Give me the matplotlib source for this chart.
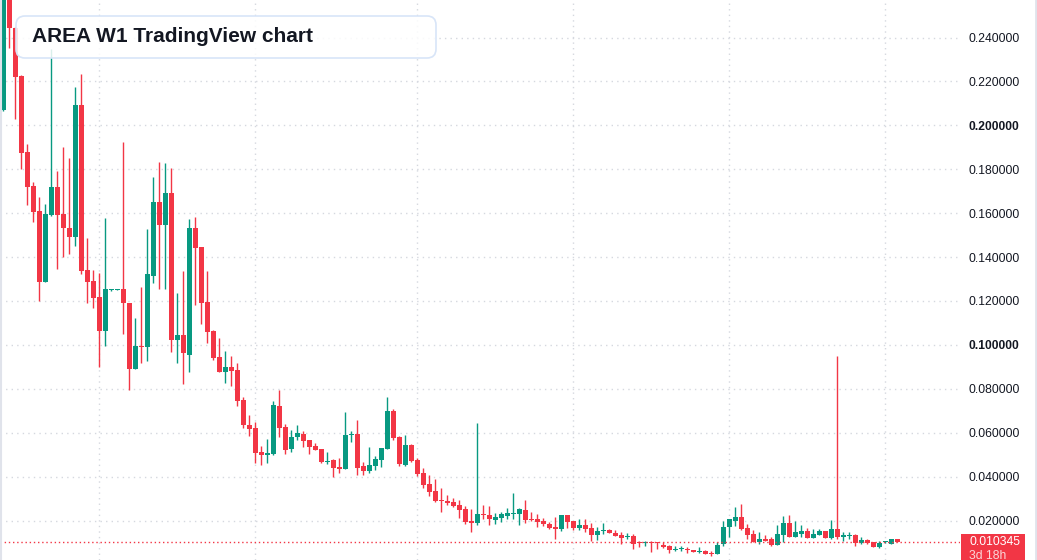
import matplotlib
matplotlib.use("Agg")
import matplotlib.pyplot as plt
import numpy as np
from matplotlib.patches import FancyBboxPatch, Rectangle
from matplotlib.transforms import IdentityTransform
from matplotlib.lines import Line2D

# ---------------- data (weekly OHLC) ----------------
opens = [0.2070, 0.2620, 0.2445, 0.2225, 0.1879, 0.1724, 0.1610, 0.1287, 0.1592, 0.1719,
         0.1596, 0.1533, 0.1492, 0.2093, 0.1341, 0.1291, 0.1218, 0.1063, 0.1248, 0.1249,
         0.1255, 0.1191, 0.0890, 0.0995, 0.0990, 0.1314, 0.1651, 0.1546, 0.1692, 0.1022,
         0.1045, 0.0954, 0.1533, 0.1446, 0.1196, 0.1063, 0.0945, 0.0877, 0.0899, 0.0886,
         0.0749, 0.0635, 0.0622, 0.0512, 0.0499, 0.0503, 0.0722, 0.0626, 0.0526, 0.0581,
         0.0594, 0.0567, 0.0540, 0.0526, 0.0468, 0.0476, 0.0444, 0.0435, 0.0590, 0.0594,
         0.0448, 0.0426, 0.0448, 0.0476, 0.0526, 0.0699, 0.0581, 0.0453, 0.0544, 0.0476,
         0.0417, 0.0366, 0.0335, 0.0295, 0.0289, 0.0284, 0.0271, 0.0253, 0.0198, 0.0189,
         0.0230, 0.0225, 0.0202, 0.0212, 0.0221, 0.0230, 0.0230, 0.0248, 0.0207, 0.0207,
         0.0198, 0.0184, 0.0171, 0.0161, 0.0225, 0.0198, 0.0166, 0.0180, 0.0166, 0.0134,
         0.0152, 0.0157, 0.0143, 0.0134, 0.0125, 0.0130, 0.0102, 0.0096, 0.0102, 0.0101,
         0.0089, 0.0084, 0.0066, 0.0070, 0.0070, 0.0066, 0.0057, 0.0061, 0.0052, 0.0048,
         0.0093, 0.0171, 0.0198, 0.0216, 0.0166, 0.0139, 0.0102, 0.0116, 0.0116, 0.0089,
         0.0134, 0.0189, 0.0125, 0.0139, 0.0152, 0.0121, 0.0134, 0.0152, 0.0121, 0.0161,
         0.0125, 0.0130, 0.0134, 0.0098, 0.0111, 0.0102, 0.0080, 0.0101, 0.0093, 0.0116]

highs = [0.2700, 0.2680, 0.2450, 0.2229, 0.1915, 0.1742, 0.1674, 0.1642, 0.2348, 0.1792,
         0.1902, 0.1851, 0.2175, 0.2234, 0.1487, 0.1341, 0.1328, 0.1578, 0.1254, 0.1255,
         0.1924, 0.1191, 0.1123, 0.1264, 0.1528, 0.1765, 0.1833, 0.1829, 0.1806, 0.1236,
         0.1337, 0.1574, 0.1583, 0.1446, 0.1337, 0.1068, 0.1032, 0.0972, 0.0950, 0.0918,
         0.0763, 0.0681, 0.0649, 0.0540, 0.0571, 0.0745, 0.0795, 0.0640, 0.0612, 0.0635,
         0.0608, 0.0567, 0.0553, 0.0526, 0.0512, 0.0480, 0.0485, 0.0694, 0.0608, 0.0658,
         0.0467, 0.0535, 0.0494, 0.0530, 0.0763, 0.0708, 0.0585, 0.0590, 0.0549, 0.0485,
         0.0439, 0.0407, 0.0389, 0.0348, 0.0316, 0.0303, 0.0294, 0.0266, 0.0253, 0.0644,
         0.0271, 0.0266, 0.0234, 0.0239, 0.0257, 0.0325, 0.0257, 0.0294, 0.0239, 0.0230,
         0.0212, 0.0193, 0.0216, 0.0225, 0.0225, 0.0198, 0.0207, 0.0207, 0.0189, 0.0171,
         0.0189, 0.0161, 0.0157, 0.0148, 0.0143, 0.0139, 0.0107, 0.0107, 0.0107, 0.0102,
         0.0102, 0.0089, 0.0084, 0.0084, 0.0080, 0.0066, 0.0080, 0.0066, 0.0061, 0.0102,
         0.0198, 0.0207, 0.0262, 0.0275, 0.0184, 0.0157, 0.0148, 0.0134, 0.0125, 0.0180,
         0.0221, 0.0225, 0.0198, 0.0180, 0.0166, 0.0161, 0.0161, 0.0152, 0.0202, 0.0950,
         0.0148, 0.0148, 0.0139, 0.0125, 0.0116, 0.0102, 0.0107, 0.0107, 0.0116, 0.0116]

lows = [0.2066, 0.2352, 0.2029, 0.1801, 0.1637, 0.1560, 0.1200, 0.1285, 0.1587, 0.1346,
        0.1400, 0.1414, 0.1451, 0.1323, 0.1191, 0.1168, 0.0899, 0.0995, 0.1246, 0.1248,
        0.1050, 0.0795, 0.0890, 0.0918, 0.0927, 0.1282, 0.1255, 0.1255, 0.0968, 0.0918,
        0.0822, 0.0877, 0.1182, 0.1095, 0.1009, 0.0931, 0.0877, 0.0827, 0.0813, 0.0722,
        0.0622, 0.0585, 0.0462, 0.0453, 0.0462, 0.0499, 0.0581, 0.0503, 0.0512, 0.0567,
        0.0535, 0.0503, 0.0521, 0.0462, 0.0458, 0.0398, 0.0417, 0.0435, 0.0558, 0.0407,
        0.0407, 0.0417, 0.0430, 0.0444, 0.0526, 0.0567, 0.0448, 0.0448, 0.0467, 0.0403,
        0.0348, 0.0312, 0.0284, 0.0239, 0.0271, 0.0262, 0.0212, 0.0184, 0.0148, 0.0180,
        0.0207, 0.0180, 0.0184, 0.0193, 0.0207, 0.0207, 0.0180, 0.0189, 0.0198, 0.0171,
        0.0175, 0.0161, 0.0116, 0.0152, 0.0166, 0.0157, 0.0157, 0.0148, 0.0107, 0.0111,
        0.0139, 0.0143, 0.0130, 0.0093, 0.0116, 0.0070, 0.0080, 0.0084, 0.0057, 0.0070,
        0.0075, 0.0052, 0.0061, 0.0061, 0.0052, 0.0057, 0.0052, 0.0048, 0.0039, 0.0048,
        0.0084, 0.0125, 0.0175, 0.0157, 0.0116, 0.0102, 0.0093, 0.0107, 0.0084, 0.0089,
        0.0102, 0.0125, 0.0125, 0.0125, 0.0121, 0.0121, 0.0134, 0.0121, 0.0116, 0.0116,
        0.0107, 0.0116, 0.0084, 0.0093, 0.0093, 0.0080, 0.0075, 0.0098, 0.0093, 0.0103]

closes = [0.2650, 0.2445, 0.2220, 0.1874, 0.1719, 0.1605, 0.1287, 0.1596, 0.1719, 0.1592,
          0.1533, 0.1492, 0.2093, 0.1337, 0.1287, 0.1214, 0.1063, 0.1255, 0.1252, 0.1253,
          0.1191, 0.0890, 0.0995, 0.0990, 0.1323, 0.1651, 0.1546, 0.1692, 0.1022, 0.1045,
          0.0963, 0.1533, 0.1441, 0.1191, 0.1059, 0.0940, 0.0877, 0.0899, 0.0881, 0.0745,
          0.0635, 0.0617, 0.0508, 0.0499, 0.0508, 0.0726, 0.0622, 0.0521, 0.0581, 0.0599,
          0.0562, 0.0535, 0.0521, 0.0467, 0.0473, 0.0439, 0.0435, 0.0590, 0.0594, 0.0439,
          0.0426, 0.0453, 0.0480, 0.0530, 0.0699, 0.0576, 0.0458, 0.0544, 0.0471, 0.0412,
          0.0362, 0.0330, 0.0289, 0.0290, 0.0280, 0.0266, 0.0248, 0.0193, 0.0189, 0.0230,
          0.0225, 0.0207, 0.0216, 0.0230, 0.0234, 0.0234, 0.0253, 0.0202, 0.0202, 0.0193,
          0.0184, 0.0166, 0.0161, 0.0225, 0.0193, 0.0166, 0.0180, 0.0161, 0.0134, 0.0152,
          0.0157, 0.0143, 0.0130, 0.0121, 0.0130, 0.0093, 0.0098, 0.0101, 0.0098, 0.0096,
          0.0080, 0.0066, 0.0070, 0.0075, 0.0066, 0.0057, 0.0061, 0.0048, 0.0048, 0.0089,
          0.0171, 0.0207, 0.0216, 0.0161, 0.0134, 0.0102, 0.0116, 0.0107, 0.0089, 0.0139,
          0.0189, 0.0125, 0.0148, 0.0152, 0.0121, 0.0139, 0.0152, 0.0121, 0.0161, 0.0125,
          0.0134, 0.0134, 0.0098, 0.0111, 0.0098, 0.0080, 0.0098, 0.0104, 0.0116, 0.010345]

price_ticks = [0.02, 0.04, 0.06, 0.08, 0.10, 0.12, 0.14, 0.16, 0.18, 0.20, 0.22, 0.24]
bold_ticks = [0.10, 0.20]
time_grid_idx = [16, 42, 69, 95, 121, 147]   # period boundaries (candle index)
last_price = 0.010345
last_label = "0.010345"
countdown = "3d 18h"
title = "AREA W1 TradingView chart"

UP = "#089981"
DOWN = "#F23645"
GRID = "#d5d8df"
TXT = "#131722"

W, H = 1037, 560
fig = plt.figure(figsize=(W / 100, H / 100), dpi=100)
fig.patch.set_facecolor("white")
plot_w = 960
ax = fig.add_axes([0, 0, plot_w / W, 1])
ax.set_facecolor("white")

o = np.array(opens); h = np.array(highs); l = np.array(lows); c = np.array(closes)
x = np.arange(len(o))
colors = np.where(c >= o, UP, DOWN)

# axis ranges (6 px per candle)
ax.set_xlim(-0.55, -0.55 + plot_w / 6.0)
ax.set_ylim(0.00203, 0.2571)

# grid
for t in price_ticks:
    ax.axhline(t, color=GRID, lw=1, ls=(0, (1, 3)), zorder=0)
for gi in time_grid_idx:
    ax.axvline(gi, color=GRID, lw=1, ls=(0, (1, 3)), zorder=0)

# candles
wicks = ax.vlines(x, l, h, colors=colors, lw=1.0, zorder=2)
wicks.set_snap(True)
min_h = 0.00047
body_bottom = np.minimum(o, c)
body_h = np.maximum(np.abs(c - o), min_h)
ax.bar(x, body_h, bottom=body_bottom, width=0.78, color=colors, edgecolor="none",
       linewidth=0, zorder=3)

# last price line
ax.axhline(last_price, color=DOWN, lw=1, ls=(0, (1, 2)), zorder=4)

# axes styling / right price scale
for s in ax.spines.values():
    s.set_visible(False)
ax.set_xticks([])
ax.set_yticks(price_ticks)
ax.yaxis.tick_right()
ax.tick_params(axis="y", length=0, pad=6.0, labelsize=8.7, labelcolor=TXT)
ax.set_yticklabels([f"{t:.6f}" for t in price_ticks], family="Liberation Sans")
for lab, t in zip(ax.get_yticklabels(), price_ticks):
    if any(abs(t - b) < 1e-9 for b in bold_ticks):
        lab.set_fontweight("bold")

# last price label on scale
fig.patches.append(Rectangle((961, 0), 64, 26, transform=IdentityTransform(),
                             facecolor=DOWN, edgecolor="none", zorder=5))
fig.text(969, 18, last_label, transform=IdentityTransform(), color="white",
         fontsize=8.7, family="Liberation Sans", va="center", ha="left", zorder=6)
fig.text(969, 4, countdown, transform=IdentityTransform(), color="#fbd5d8",
         fontsize=8.7, family="Liberation Sans", va="center", ha="left", zorder=6)

# borders
fig.lines.append(Line2D([0.5, 0.5], [0, H], transform=IdentityTransform(),
                        color="#e0e3eb", lw=1.5))
fig.lines.append(Line2D([W - 1.5, W - 1.5], [0, H], transform=IdentityTransform(),
                        color="#e0e3eb", lw=2))

# title box
fig.patches.append(FancyBboxPatch((16, H - 58), 420, 42,
                                  boxstyle="round,pad=0,rounding_size=9",
                                  transform=IdentityTransform(),
                                  facecolor=(1, 1, 1, 0.85), edgecolor="#d8e5f8",
                                  linewidth=1.2, zorder=10))
fig.text(32, H - 37, title, transform=IdentityTransform(), color=TXT,
         fontsize=15, fontweight="bold", family="Liberation Sans",
         va="center", ha="left", zorder=11)

fig.savefig("out.png", dpi=100, facecolor="white")
